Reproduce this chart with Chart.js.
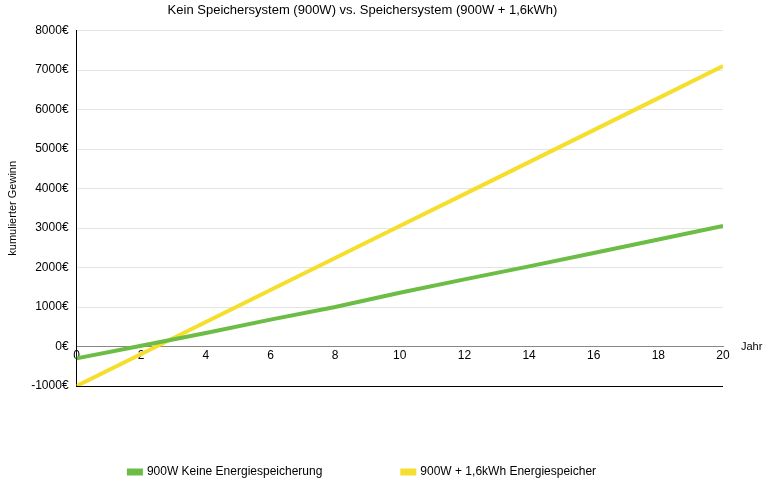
<!DOCTYPE html>
<html><head><script src="https://cdn.jsdelivr.net/npm/chart.js@4"></script>
<style>body{margin:0;background:#fff}#w{width:768px;height:488px}</style></head>
<body><div id="w"><canvas id="c"></canvas></div>
<script>
const years=[0,2,4,6,8,10,12,14,16,18,20];
const noStorage=[-300,20,340,680,1000,1360,1700,2030,2370,2710,3050];
const withStorage=[-1000,-190,620,1430,2240,3050,3860,4670,5480,6290,7100];
const yTicks=[-1000,0,1000,2000,3000,4000,5000,6000,7000,8000];
const F='"Liberation Sans", Arial, sans-serif';
Chart.defaults.font.family=F;Chart.defaults.color='#000';
const jahr={id:'jahr',afterDraw(ch){const c=ch.ctx,x=ch.scales.x,y=ch.scales.y;c.save();c.font='11px '+F;c.fillStyle='#000';c.textBaseline='middle';c.fillText('Jahr',x.right+18,y.getPixelForValue(0));c.restore();}};
new Chart(document.getElementById('c'),{type:'line',
data:{datasets:[
{label:'900W Keine Energiespeicherung',data:years.map((x,i)=>({x,y:noStorage[i]})),borderColor:'#6cbd45',backgroundColor:'#6cbd45',borderWidth:4,pointRadius:0,tension:0},
{label:'900W + 1,6kWh Energiespeicher',data:years.map((x,i)=>({x,y:withStorage[i]})),borderColor:'#f5de2c',backgroundColor:'#f5de2c',borderWidth:4,pointRadius:0,tension:0}]},
options:{responsive:true,maintainAspectRatio:false,animation:false,
layout:{padding:{left:2,right:45,top:0,bottom:0}},
plugins:{title:{display:true,text:'Kein Speichersystem (900W) vs. Speichersystem (900W + 1,6kWh)',font:{size:13,weight:'normal'},padding:{top:3,bottom:12}},
legend:{position:'bottom',labels:{boxWidth:12,boxHeight:3,font:{size:12},padding:80}},tooltip:{enabled:false}},
scales:{
x:{type:'linear',min:0,max:20,position:{y:0},ticks:{stepSize:2,font:{size:12},padding:2},grid:{display:false,drawTicks:false},border:{color:'#888'}},
y:{min:-1000,max:8000,afterBuildTicks:a=>{a.ticks=yTicks.map(v=>({value:v}));},ticks:{callback:v=>v+'€',font:{size:12},padding:8},
 title:{display:true,text:'kumulierter Gewinn',font:{size:11}},
 grid:{color:c=>c.tick&&c.tick.value===-1000?'#000':(c.tick&&c.tick.value===0?'#888':'#e4e4e4'),drawTicks:false},border:{color:'#000'}}
}},plugins:[jahr]});
</script></body></html>
